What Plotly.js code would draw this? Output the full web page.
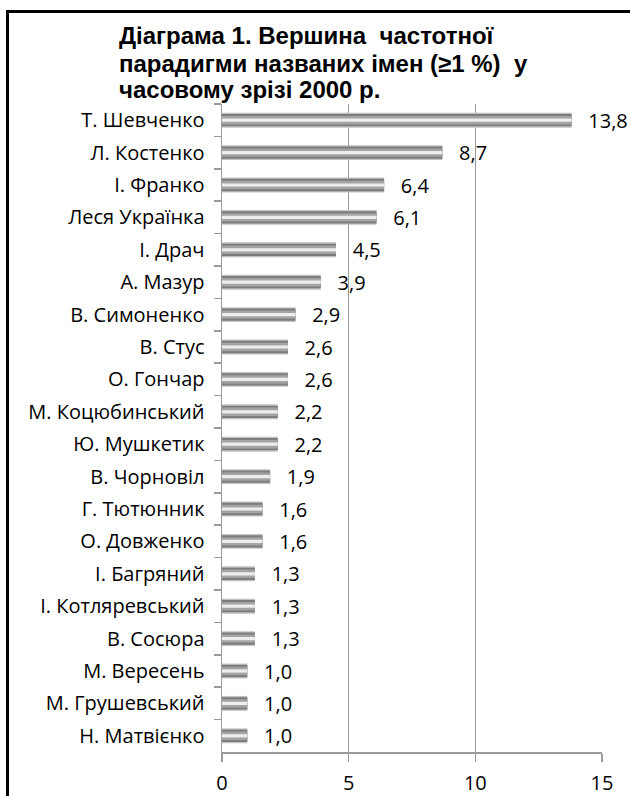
<!DOCTYPE html>
<html>
<head>
<meta charset="utf-8">
<script src="https://cdn.plot.ly/plotly-3.0.1.min.js"></script>
<style>
html,body{margin:0;padding:0;background:#fff;}
#wrap{position:relative;width:630px;height:796px;overflow:hidden;}
#chart{width:630px;height:796px;}
#frame{position:absolute;left:6px;top:10px;right:-10px;bottom:-10px;border-top:3px solid #000;border-left:3px solid #000;pointer-events:none;}
</style>
</head>
<body>
<div id="wrap"><div id="chart"></div><div id="frame"></div></div>
<script>
const names = ["Т. Шевченко","Л. Костенко","І. Франко","Леся Українка","І. Драч","А. Мазур","В. Симоненко","В. Стус","О. Гончар","М. Коцюбинський","Ю. Мушкетик","В. Чорновіл","Г. Тютюнник","О. Довженко","І. Багряний","І. Котляревський","В. Сосюра","М. Вересень","М. Грушевський","Н. Матвієнко"];
const values = [13.8,8.7,6.4,6.1,4.5,3.9,2.9,2.6,2.6,2.2,2.2,1.9,1.6,1.6,1.3,1.3,1.3,1.0,1.0,1.0];
const xTicks = [0,5,10,15];
const titleLines = ["Діаграма 1. Вершина  частотної", "парадигми названих імен (≥1 %)  у", "часовому зрізі 2000 р."];

const labels = values.map(v => v.toFixed(1).replace('.', ','));
const layers = [
  {w:0.46, c:'#c2c2c2'},
  {w:0.38, c:'#7c7c7c'},
  {w:0.26, c:'#a4a4a4'},
  {w:0.10, c:'#eeeeee'}
];
const traces = layers.map((L, i) => ({
  type:'bar', orientation:'h', x: values, y: names,
  width: names.map(() => L.w),
  marker:{color:L.c, line:{width:0}},
  text: i === 0 ? labels.map(s => '  \u2009' + s) : undefined,
  textposition: i === 0 ? 'outside' : 'none',
  constraintext:'none',
  cliponaxis:false,
  textfont:{family:'Open Sans, sans-serif', size:20, color:'#000'},
  hoverinfo:'skip', showlegend:false
}));

const titleY = [36, 63, 89];
const layout = {
  width:630, height:796,
  margin:{l:222, r:28, t:104, b:44},
  paper_bgcolor:'#fff', plot_bgcolor:'#fff',
  barmode:'overlay',
  font:{family:'Open Sans, sans-serif', size:20, color:'#000'},
  annotations: titleLines.map((t, i) => ({text:t, xref:'paper', yref:'paper', x:(117-222)/380, xanchor:'left', align:'left',
    y:1+(104-titleY[i])/648, yanchor:'middle', showarrow:false,
    font:{family:'Liberation Sans, Arial, sans-serif', size:24, color:'#000', weight:'bold'}})),
  xaxis:{range:[0,15], tickvals:xTicks, ticktext:xTicks.map(String), showgrid:true, gridcolor:'#9a9a9a', gridwidth:1.5,
    zeroline:false, showline:true, linecolor:'#9a9a9a', linewidth:1.5, ticks:'outside', ticklen:8, tickcolor:'#9a9a9a', tickwidth:1.5,
    tickfont:{size:20}, ticklabelstandoff:4, fixedrange:true},
  yaxis:{type:'category', autorange:'reversed', showline:true, linecolor:'#9a9a9a', linewidth:1.5, ticks:'outside', ticklen:7,
    tickcolor:'#9a9a9a', tickwidth:1.5, tickson:'boundaries', showgrid:false, tickfont:{size:20}, ticklabelstandoff:12, fixedrange:true}
};
Plotly.newPlot('chart', traces, layout, {staticPlot:true, displayModeBar:false});
</script>
</body>
</html>
